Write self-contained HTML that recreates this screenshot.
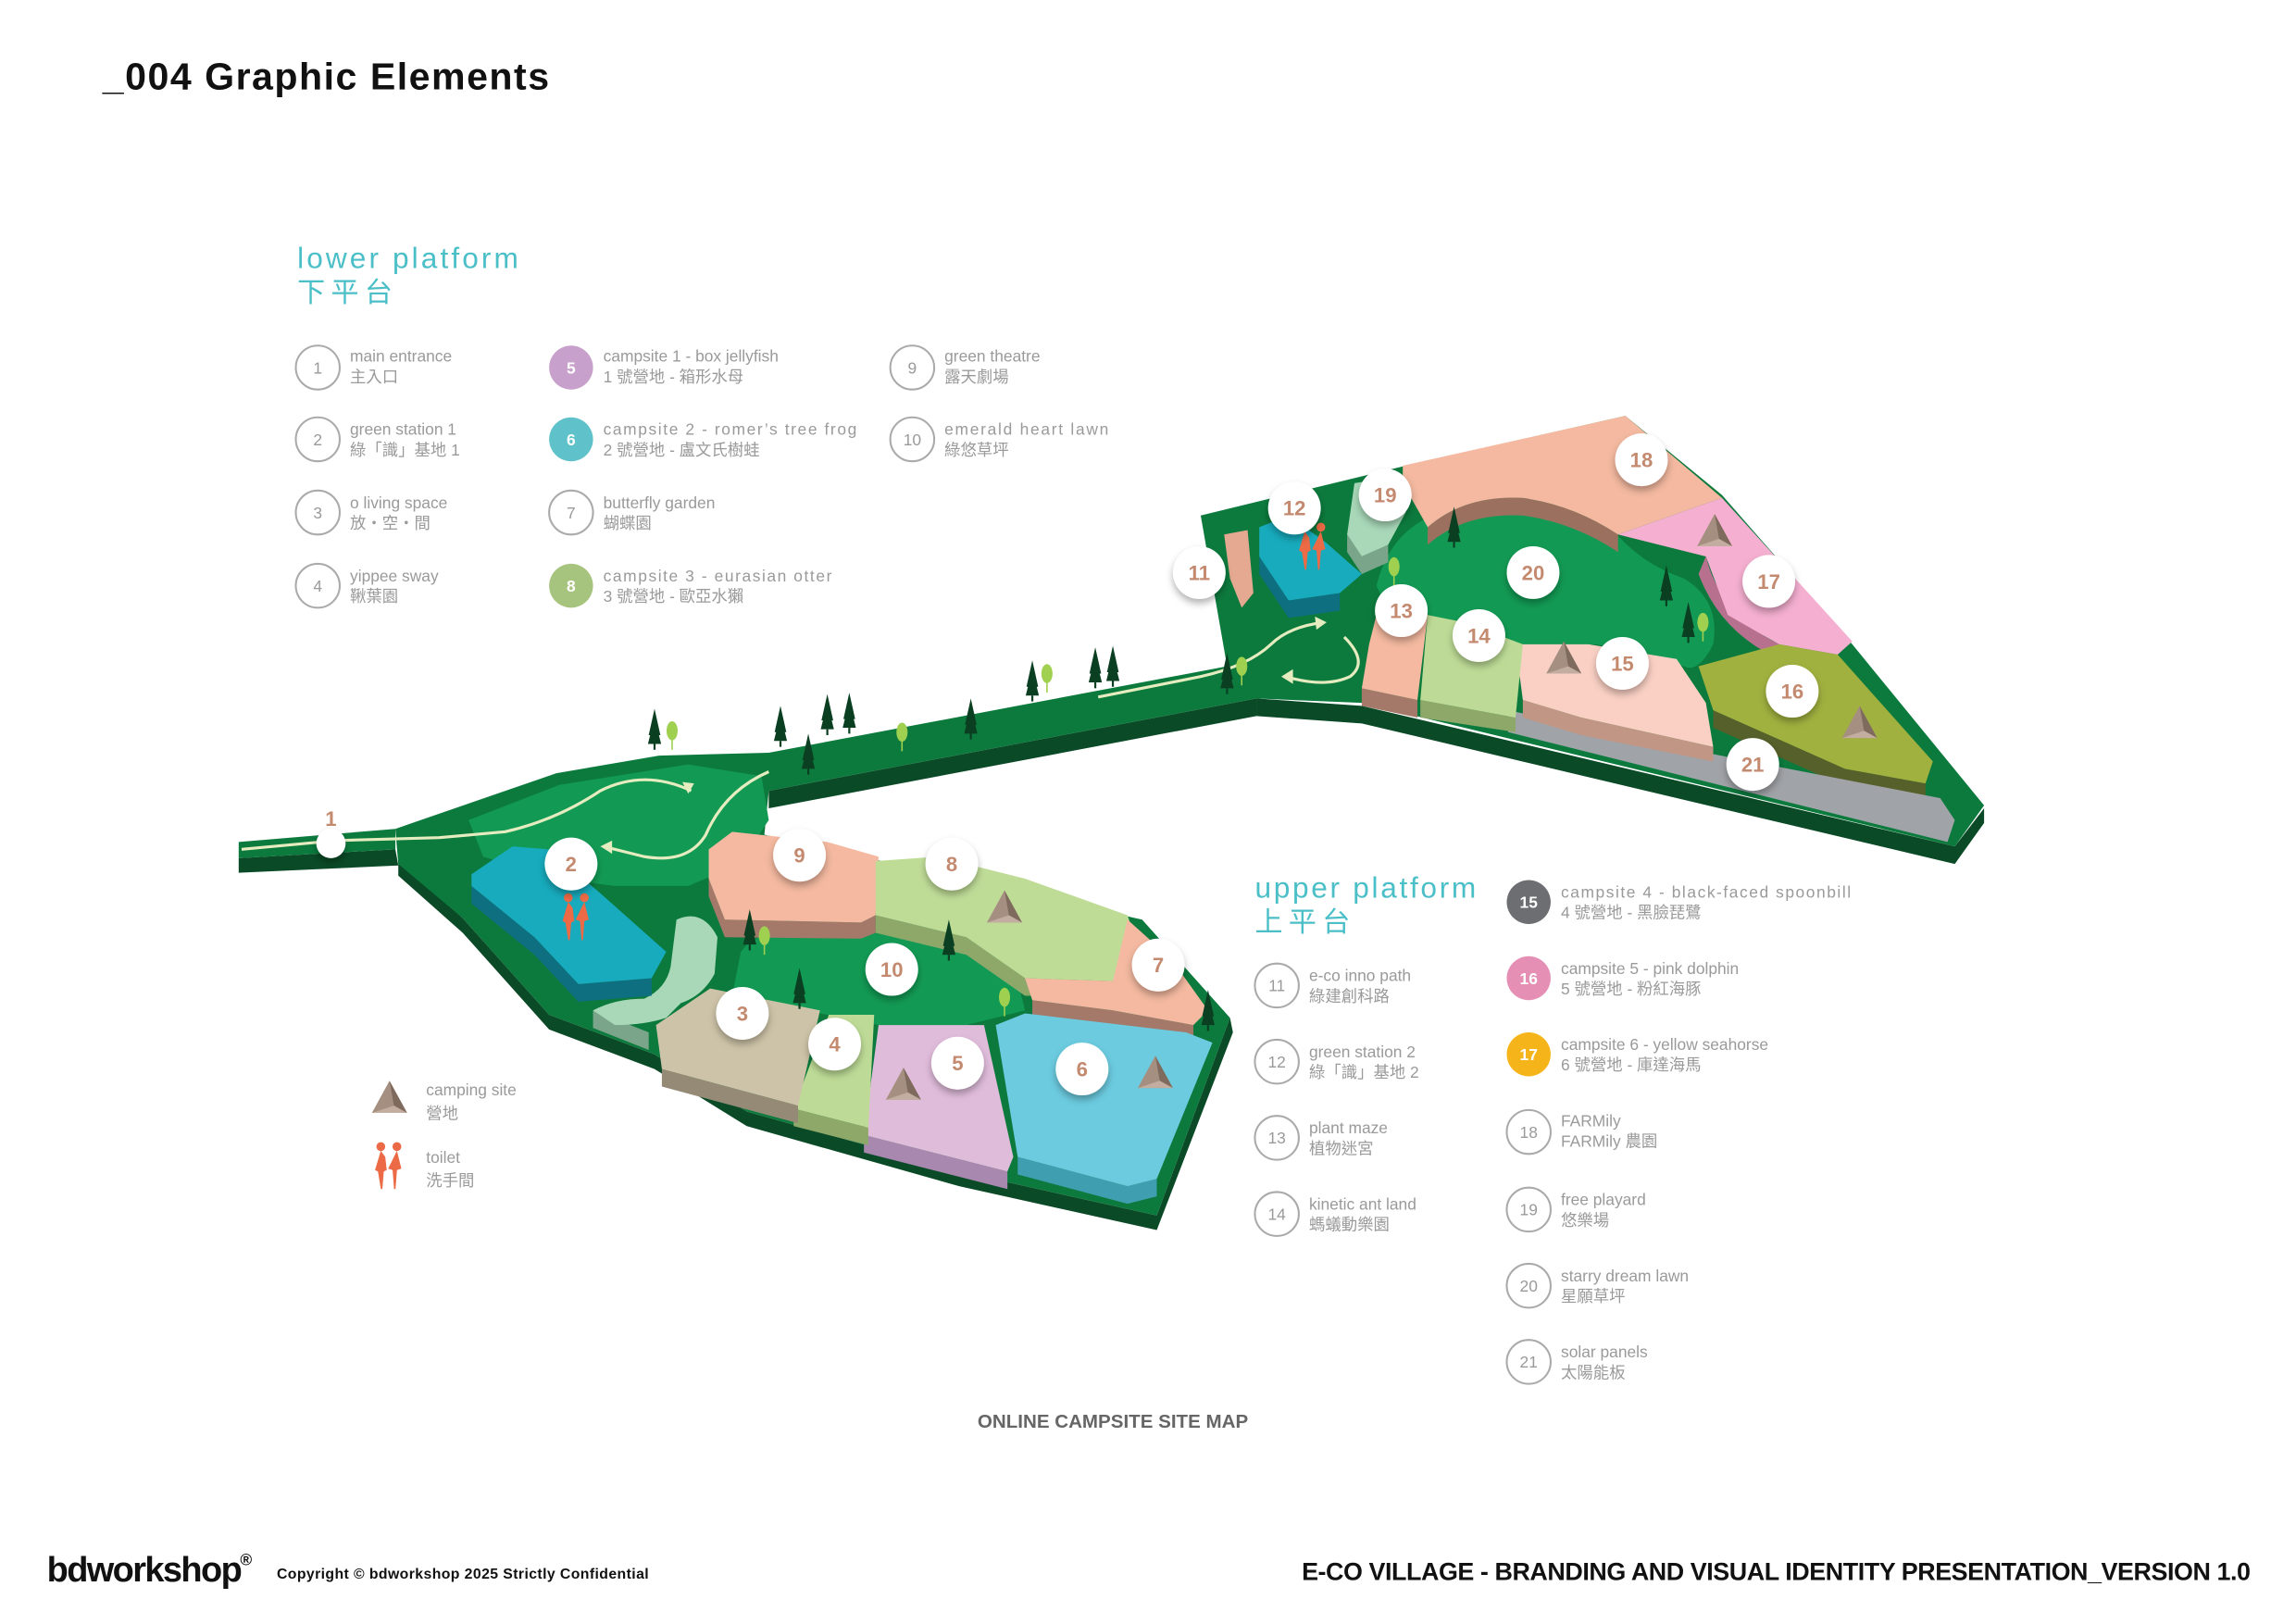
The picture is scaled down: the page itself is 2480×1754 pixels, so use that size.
<!DOCTYPE html>
<html><head><meta charset="utf-8">
<style>
html,body{margin:0;padding:0;background:#fff;}
svg{display:block;}
text{font-family:"Liberation Sans","Noto Sans CJK TC",sans-serif;}
.lg{fill:#9a9a9a;font-size:11px;}
.cn{fill:#9a9a9a;font-size:11px;text-anchor:middle;}
.num{fill:#c48a70;font-size:14px;font-weight:bold;text-anchor:middle;}
</style></head><body>
<svg width="2480" height="1754" viewBox="0 0 1568 1109" xmlns="http://www.w3.org/2000/svg">
<defs>
<filter id="sh" x="-50%" y="-50%" width="200%" height="200%"><feDropShadow dx="0" dy="3" stdDeviation="2.5" flood-color="#000" flood-opacity="0.3"/></filter>
<g id="tree"><polygon points="0,-24 -4,-6 4,-6" fill="#0b3f22"/><polygon points="0,-18 -4.5,0 4.5,0" fill="#0b3f22"/><rect x="-0.7" y="0" width="1.4" height="4" fill="#0b3f22"/></g>
<g id="rtree"><ellipse cx="0" cy="-8" rx="3.8" ry="6.5" fill="#9fd050"/><rect x="-0.5" y="-2" width="1" height="7" fill="#9fd050"/></g>
<g id="tent"><polygon points="0,-14 -12,8 12,8" fill="#a58f80"/><polygon points="0,-14 12,8 3,3" fill="#7f6a5e"/><polygon points="-12,8 12,8 3,3" fill="#c2ada0"/></g>
<g id="toil"><path d="M-6,-14 a3,3 0 1,1 0.1,0 l3,4 l1,9 l-2,1 l-1,12 l-1,0 l-2,-12 l-2,-1 z" fill="#ec6a45"/><path d="M5,-14 a3,3 0 1,1 0.1,0 l3,12 l-3,1 l-1,13 l-1,0 l-1,-13 l-3,-1 z" fill="#ec6a45"/></g>
</defs>

<text x="70" y="61" font-size="26" font-weight="bold" fill="#111" textLength="305">_004 Graphic Elements</text>

<text x="203" y="183" font-size="20" fill="#4bbfc8" textLength="151">lower platform</text>
<text x="203" y="206" font-size="19" fill="#4bbfc8" letter-spacing="4">下平台</text>

<g>
<circle cx="217" cy="251" r="15" fill="none" stroke="#aaa" stroke-width="1.3"/><text class="cn" x="217" y="255">1</text>
<text class="lg" x="239" y="247">main entrance</text><text class="lg" x="239" y="261">主入口</text>
<circle cx="217" cy="300" r="15" fill="none" stroke="#aaa" stroke-width="1.3"/><text class="cn" x="217" y="304">2</text>
<text class="lg" x="239" y="297">green station 1</text><text class="lg" x="239" y="311">綠「識」基地 1</text>
<circle cx="217" cy="350" r="15" fill="none" stroke="#aaa" stroke-width="1.3"/><text class="cn" x="217" y="354">3</text>
<text class="lg" x="239" y="347">o living space</text><text class="lg" x="239" y="361">放・空・間</text>
<circle cx="217" cy="400" r="15" fill="none" stroke="#aaa" stroke-width="1.3"/><text class="cn" x="217" y="404">4</text>
<text class="lg" x="239" y="397">yippee sway</text><text class="lg" x="239" y="411">鞦葉園</text>

<circle cx="390" cy="251" r="15" fill="#c8a0cc"/><text class="cn" x="390" y="255" style="fill:#fff;font-weight:bold">5</text>
<text class="lg" x="412" y="247">campsite 1 - box jellyfish</text><text class="lg" x="412" y="261">1 號營地 - 箱形水母</text>
<circle cx="390" cy="300" r="15" fill="#5fc1c9"/><text class="cn" x="390" y="304" style="fill:#fff;font-weight:bold">6</text>
<text class="lg" x="412" y="297" textLength="173">campsite 2 - romer’s tree frog</text><text class="lg" x="412" y="311">2 號營地 - 盧文氏樹蛙</text>
<circle cx="390" cy="350" r="15" fill="none" stroke="#aaa" stroke-width="1.3"/><text class="cn" x="390" y="354">7</text>
<text class="lg" x="412" y="347">butterfly garden</text><text class="lg" x="412" y="361">蝴蝶園</text>
<circle cx="390" cy="400" r="15" fill="#a7c47f"/><text class="cn" x="390" y="404" style="fill:#fff;font-weight:bold">8</text>
<text class="lg" x="412" y="397" textLength="156">campsite 3 - eurasian otter</text><text class="lg" x="412" y="411">3 號營地 - 歐亞水獺</text>

<circle cx="623" cy="251" r="15" fill="none" stroke="#aaa" stroke-width="1.3"/><text class="cn" x="623" y="255">9</text>
<text class="lg" x="645" y="247">green theatre</text><text class="lg" x="645" y="261">露天劇場</text>
<circle cx="623" cy="300" r="15" fill="none" stroke="#aaa" stroke-width="1.3"/><text class="cn" x="623" y="304">10</text>
<text class="lg" x="645" y="297" textLength="112">emerald heart lawn</text><text class="lg" x="645" y="311">綠悠草坪</text>
</g>

<text x="857" y="613" font-size="20" fill="#4bbfc8" textLength="151">upper platform</text>
<text x="857" y="636" font-size="19" fill="#4bbfc8" letter-spacing="4">上平台</text>
<g>
<circle cx="872" cy="673" r="15" fill="none" stroke="#aaa" stroke-width="1.3"/><text class="cn" x="872" y="677">11</text>
<text class="lg" x="894" y="670">e-co inno path</text><text class="lg" x="894" y="684">綠建創科路</text>
<circle cx="872" cy="725" r="15" fill="none" stroke="#aaa" stroke-width="1.3"/><text class="cn" x="872" y="729">12</text>
<text class="lg" x="894" y="722">green station 2</text><text class="lg" x="894" y="736">綠「識」基地 2</text>
<circle cx="872" cy="777" r="15" fill="none" stroke="#aaa" stroke-width="1.3"/><text class="cn" x="872" y="781">13</text>
<text class="lg" x="894" y="774">plant maze</text><text class="lg" x="894" y="788">植物迷宮</text>
<circle cx="872" cy="829" r="15" fill="none" stroke="#aaa" stroke-width="1.3"/><text class="cn" x="872" y="833">14</text>
<text class="lg" x="894" y="826">kinetic ant land</text><text class="lg" x="894" y="840">螞蟻動樂園</text>

<circle cx="1044" cy="616" r="15" fill="#6d6e71"/><text class="cn" x="1044" y="620" style="fill:#fff;font-weight:bold">15</text>
<text class="lg" x="1066" y="613" textLength="198">campsite 4 - black-faced spoonbill</text><text class="lg" x="1066" y="627">4 號營地 - 黑臉琵鷺</text>
<circle cx="1044" cy="668" r="15" fill="#e58fb5"/><text class="cn" x="1044" y="672" style="fill:#fff;font-weight:bold">16</text>
<text class="lg" x="1066" y="665">campsite 5 - pink dolphin</text><text class="lg" x="1066" y="679">5 號營地 - 粉紅海豚</text>
<circle cx="1044" cy="720" r="15" fill="#f5b51a"/><text class="cn" x="1044" y="724" style="fill:#fff;font-weight:bold">17</text>
<text class="lg" x="1066" y="717">campsite 6 - yellow seahorse</text><text class="lg" x="1066" y="731">6 號營地 - 庫達海馬</text>
<circle cx="1044" cy="773" r="15" fill="none" stroke="#aaa" stroke-width="1.3"/><text class="cn" x="1044" y="777">18</text>
<text class="lg" x="1066" y="769">FARMily</text><text class="lg" x="1066" y="783">FARMily 農園</text>
<circle cx="1044" cy="826" r="15" fill="none" stroke="#aaa" stroke-width="1.3"/><text class="cn" x="1044" y="830">19</text>
<text class="lg" x="1066" y="823">free playard</text><text class="lg" x="1066" y="837">悠樂場</text>
<circle cx="1044" cy="878" r="15" fill="none" stroke="#aaa" stroke-width="1.3"/><text class="cn" x="1044" y="882">20</text>
<text class="lg" x="1066" y="875">starry dream lawn</text><text class="lg" x="1066" y="889">星願草坪</text>
<circle cx="1044" cy="930" r="15" fill="none" stroke="#aaa" stroke-width="1.3"/><text class="cn" x="1044" y="934">21</text>
<text class="lg" x="1066" y="927">solar panels</text><text class="lg" x="1066" y="941">太陽能板</text>
</g>

<use href="#tent" x="266" y="752"/>
<text class="lg" x="291" y="748" font-size="12">camping site</text><text class="lg" x="291" y="764" font-size="12">營地</text>
<use href="#toil" x="266" y="800"/>
<text class="lg" x="291" y="794" font-size="12">toilet</text><text class="lg" x="291" y="810" font-size="12">洗手間</text>

<!-- MAP -->
<g fill="#0a4a26">
<polygon points="163,586 270,580 272,591 163,596"/>
<path d="M272,598 L316,637 L375,703 L447,730 L510,769 L655,810 L790,840 L842,705 L840,695 L790,830 L655,800 L510,759 L447,720 L375,693 L316,627 L272,588 Z"/>
<polygon points="525,540 858,477 858,489 525,552"/>
<polygon points="858,477 930,482 1335,578 1355,552 1355,562 1335,590 930,494 858,489"/>
</g>
<g fill="#0c7a3d">
<polygon points="163,575 270,566 270,580 163,586"/>
<path d="M270,566 L322,548 L380,528 L450,516 L525,514 L838,455 L820,352 L960,318 L1110,284 L1176,338 L1265,440 L1355,550 L1335,578 L930,480 L858,477 L525,540 L522,570 L700,610 L780,628 L840,695 L790,830 L655,800 L510,759 L447,720 L375,693 L316,627 L272,590 Z"/>
</g>
<path d="M320,560 L382,536 L470,522 L520,530 L525,560 L505,590 L470,605 L420,605 L380,600 L330,585 Z" fill="#129a54"/>
<path d="M506,650 Q520,630 560,640 L640,630 L690,650 L700,690 L660,700 L600,700 L560,692 L500,680 Z" fill="#129a54"/>
<path d="M940,400 Q950,360 985,350 Q1040,330 1100,360 Q1120,385 1150,395 Q1175,410 1170,440 Q1160,460 1150,455 L1090,440 L1035,440 L990,425 L950,420 Z" fill="#129a54"/>

<g fill="none" stroke="#e4ecc0" stroke-width="2">
<path d="M165,580 L230,574 L300,572 L345,568 Q380,560 410,540 Q440,525 472,540"/>
<path d="M525,527 Q495,540 482,570 Q470,590 440,585 L412,578"/>
<path d="M750,476 L820,462 Q852,455 868,440 Q880,428 904,425"/>
<path d="M918,435 Q935,452 922,462 Q905,470 878,462"/>
</g>
<g fill="#e4ecc0">
<polygon points="474,535 466,534 470,542"/>
<polygon points="410,578 418,574 418,583"/>
<polygon points="906,425 898,421 899,430"/>
<polygon points="875,462 883,457 883,467"/>
</g>

<g>
<polygon points="484,600 495,628 588,630 598,625 598,637 588,641 495,640 484,612" fill="#a5796a"/>
<polygon points="484,580 500,568 565,575 600,585 598,625 588,630 495,628 484,600" fill="#f4b9a0"/>
<polygon points="598,625 660,640 700,668 760,670 760,680 700,680 660,652 598,637" fill="#8ea86a"/>
<polygon points="598,588 640,585 700,600 770,625 775,640 760,670 700,668 660,640 598,625" fill="#bfdc97"/>
<polygon points="705,683 760,690 815,700 815,712 760,702 705,695" fill="#a5796a"/>
<polygon points="770,628 800,655 825,690 815,700 760,690 705,683 700,668 760,670" fill="#f4b9a0"/>
<polygon points="695,790 770,810 790,805 790,817 770,822 695,802" fill="#3f9fb0"/>
<polygon points="680,700 700,692 810,705 828,712 790,805 770,810 695,790" fill="#6ccbdf"/>
<polygon points="590,775 688,800 688,812 590,787" fill="#a988b0"/>
<polygon points="600,700 672,700 692,790 688,800 590,775" fill="#e0bcdb"/>
<polygon points="542,757 593,770 593,782 542,769" fill="#8ea86a"/>
<polygon points="566,693 597,693 593,770 542,757" fill="#bddb96"/>
<polygon points="452,730 545,755 545,767 452,742" fill="#958a75"/>
<polygon points="485,675 560,690 545,755 452,730 448,700" fill="#cdc3a8"/>
<polygon points="405,690 443,705 443,717 405,702" fill="#7aa58a"/>
<path d="M462,628 Q480,620 490,640 L488,665 Q480,680 465,685 L455,695 Q440,700 420,700 L405,690 Q420,682 440,682 Q455,675 458,660 Z" fill="#a8d8b8"/>
<polygon points="322,605 365,640 395,672 445,668 445,680 395,684 365,652 322,617" fill="#0e6f80"/>
<polygon points="322,597 350,578 375,580 410,610 455,650 445,668 395,672 365,640 322,605" fill="#17abbd"/>
</g>

<g>
<path d="M975,360 Q1000,338 1040,340 Q1075,345 1105,365 L1105,377 Q1075,357 1040,352 Q1000,350 975,372 Z" fill="#9b705e"/>
<path d="M958,318 L1110,284 L1176,340 L1105,365 Q1075,345 1040,340 Q1000,338 975,360 L958,330 Z" fill="#f4b9a0"/>
<path d="M1165,380 Q1175,420 1215,440 L1215,450 Q1175,432 1160,392 Z" fill="#b8708f"/>
<polygon points="1105,365 1176,340 1265,438 1255,447 1215,440 1180,420 1165,380" fill="#f5afd0"/>
<polygon points="1170,485 1260,525 1315,535 1315,547 1260,537 1170,497" fill="#56602a"/>
<polygon points="1160,455 1215,440 1255,447 1320,520 1315,535 1260,525 1170,485" fill="#a1b13f"/>
<polygon points="1030,485 1170,515 1325,545 1335,560 1330,575 1030,500" fill="#a0a3a7"/>
<polygon points="1040,478 1080,490 1170,510 1170,520 1080,502 1040,490" fill="#c29684"/>
<polygon points="1035,440 1085,440 1145,450 1165,480 1170,510 1080,490 1040,478" fill="#fad0c4"/>
<polygon points="970,478 1035,490 1035,500 970,490" fill="#8ea86a"/>
<polygon points="975,420 1000,425 1040,440 1035,490 970,478" fill="#bddb96"/>
<polygon points="930,470 968,478 968,490 930,482" fill="#a5796a"/>
<polygon points="940,420 975,420 968,478 930,470 935,440" fill="#f4b9a0"/>
<polygon points="860,380 880,410 915,405 915,417 880,422 860,392" fill="#0e6f80"/>
<polygon points="860,360 880,352 905,370 930,392 915,405 880,410 860,380" fill="#17abbd"/>
<polygon points="920,365 930,380 948,372 948,384 930,392 920,377" fill="#7aa58a"/>
<path d="M925,330 L955,325 Q962,340 960,350 L948,372 L930,380 L920,365 Z" fill="#a8d8b8"/>
<polygon points="836,365 852,362 856,405 848,415 840,395" fill="#e5a890"/>
</g>

<g>
<use href="#tree" x="447" y="508"/><use href="#rtree" x="459" y="507"/>
<use href="#tree" x="533" y="506"/><use href="#tree" x="565" y="498"/><use href="#tree" x="580" y="497"/>
<use href="#tree" x="552" y="525"/><use href="#rtree" x="616" y="508"/><use href="#tree" x="663" y="501"/>
<use href="#tree" x="705" y="475"/><use href="#rtree" x="715" y="468"/><use href="#tree" x="748" y="466"/><use href="#tree" x="760" y="465"/>
<use href="#tree" x="838" y="470"/><use href="#rtree" x="848" y="463"/>
<use href="#tree" x="993" y="370"/><use href="#rtree" x="952" y="395"/>
<use href="#tree" x="1138" y="410"/><use href="#tree" x="1153" y="435"/><use href="#rtree" x="1163" y="433"/>
<use href="#tree" x="512" y="645"/><use href="#rtree" x="522" y="647"/><use href="#tree" x="546" y="685"/>
<use href="#tree" x="648" y="652"/><use href="#rtree" x="686" y="689"/><use href="#tree" x="825" y="700"/>
</g>

<use href="#tent" x="686" y="622"/><use href="#tent" x="617" y="743"/><use href="#tent" x="789" y="735"/>
<use href="#tent" x="1068" y="452"/><use href="#tent" x="1171" y="365"/><use href="#tent" x="1270" y="496"/>
<use href="#toil" x="394" y="630"/><use href="#toil" x="897" y="377"/>

<g filter="url(#sh)" fill="#fff">
<circle cx="226" cy="576" r="10"/>
<circle cx="390" cy="590" r="18"/><circle cx="507" cy="692" r="18"/><circle cx="570" cy="713" r="18"/>
<circle cx="654" cy="726" r="18"/><circle cx="739" cy="730" r="18"/><circle cx="791" cy="659" r="18"/>
<circle cx="650" cy="590" r="18"/><circle cx="546" cy="584" r="18"/><circle cx="609" cy="662" r="18"/>
<circle cx="819" cy="391" r="18"/><circle cx="884" cy="347" r="18"/><circle cx="957" cy="417" r="18"/>
<circle cx="1010" cy="434" r="18"/><circle cx="1108" cy="453" r="18"/><circle cx="1224" cy="472" r="18"/>
<circle cx="1208" cy="397" r="18"/><circle cx="1121" cy="314" r="18"/><circle cx="946" cy="338" r="18"/>
<circle cx="1047" cy="391" r="18"/><circle cx="1197" cy="522" r="18"/>
</g>
<g>
<text class="num" x="226" y="564">1</text>
<text class="num" x="390" y="595">2</text><text class="num" x="507" y="697">3</text><text class="num" x="570" y="718">4</text>
<text class="num" x="654" y="731">5</text><text class="num" x="739" y="735">6</text><text class="num" x="791" y="664">7</text>
<text class="num" x="650" y="595">8</text><text class="num" x="546" y="589">9</text><text class="num" x="609" y="667">10</text>
<text class="num" x="819" y="396">11</text><text class="num" x="884" y="352">12</text><text class="num" x="957" y="422">13</text>
<text class="num" x="1010" y="439">14</text><text class="num" x="1108" y="458">15</text><text class="num" x="1224" y="477">16</text>
<text class="num" x="1208" y="402">17</text><text class="num" x="1121" y="319">18</text><text class="num" x="946" y="343">19</text>
<text class="num" x="1047" y="396">20</text><text class="num" x="1197" y="527">21</text>
</g>

<text x="760" y="975" font-size="13" font-weight="bold" fill="#666" text-anchor="middle">ONLINE CAMPSITE SITE MAP</text>

<text x="32" y="1080" font-size="24" font-weight="bold" fill="#111" letter-spacing="-1.5" textLength="132">bdworkshop</text>
<text x="164" y="1069" font-size="11" font-weight="bold" fill="#111">®</text>
<text x="189" y="1078" font-size="10" font-weight="bold" fill="#111" textLength="254">Copyright © bdworkshop 2025 Strictly Confidential</text>
<text x="1537" y="1079" font-size="17" font-weight="bold" fill="#111" text-anchor="end" textLength="648">E-CO VILLAGE - BRANDING AND VISUAL IDENTITY PRESENTATION_VERSION 1.0</text>
</svg>
</body></html>
